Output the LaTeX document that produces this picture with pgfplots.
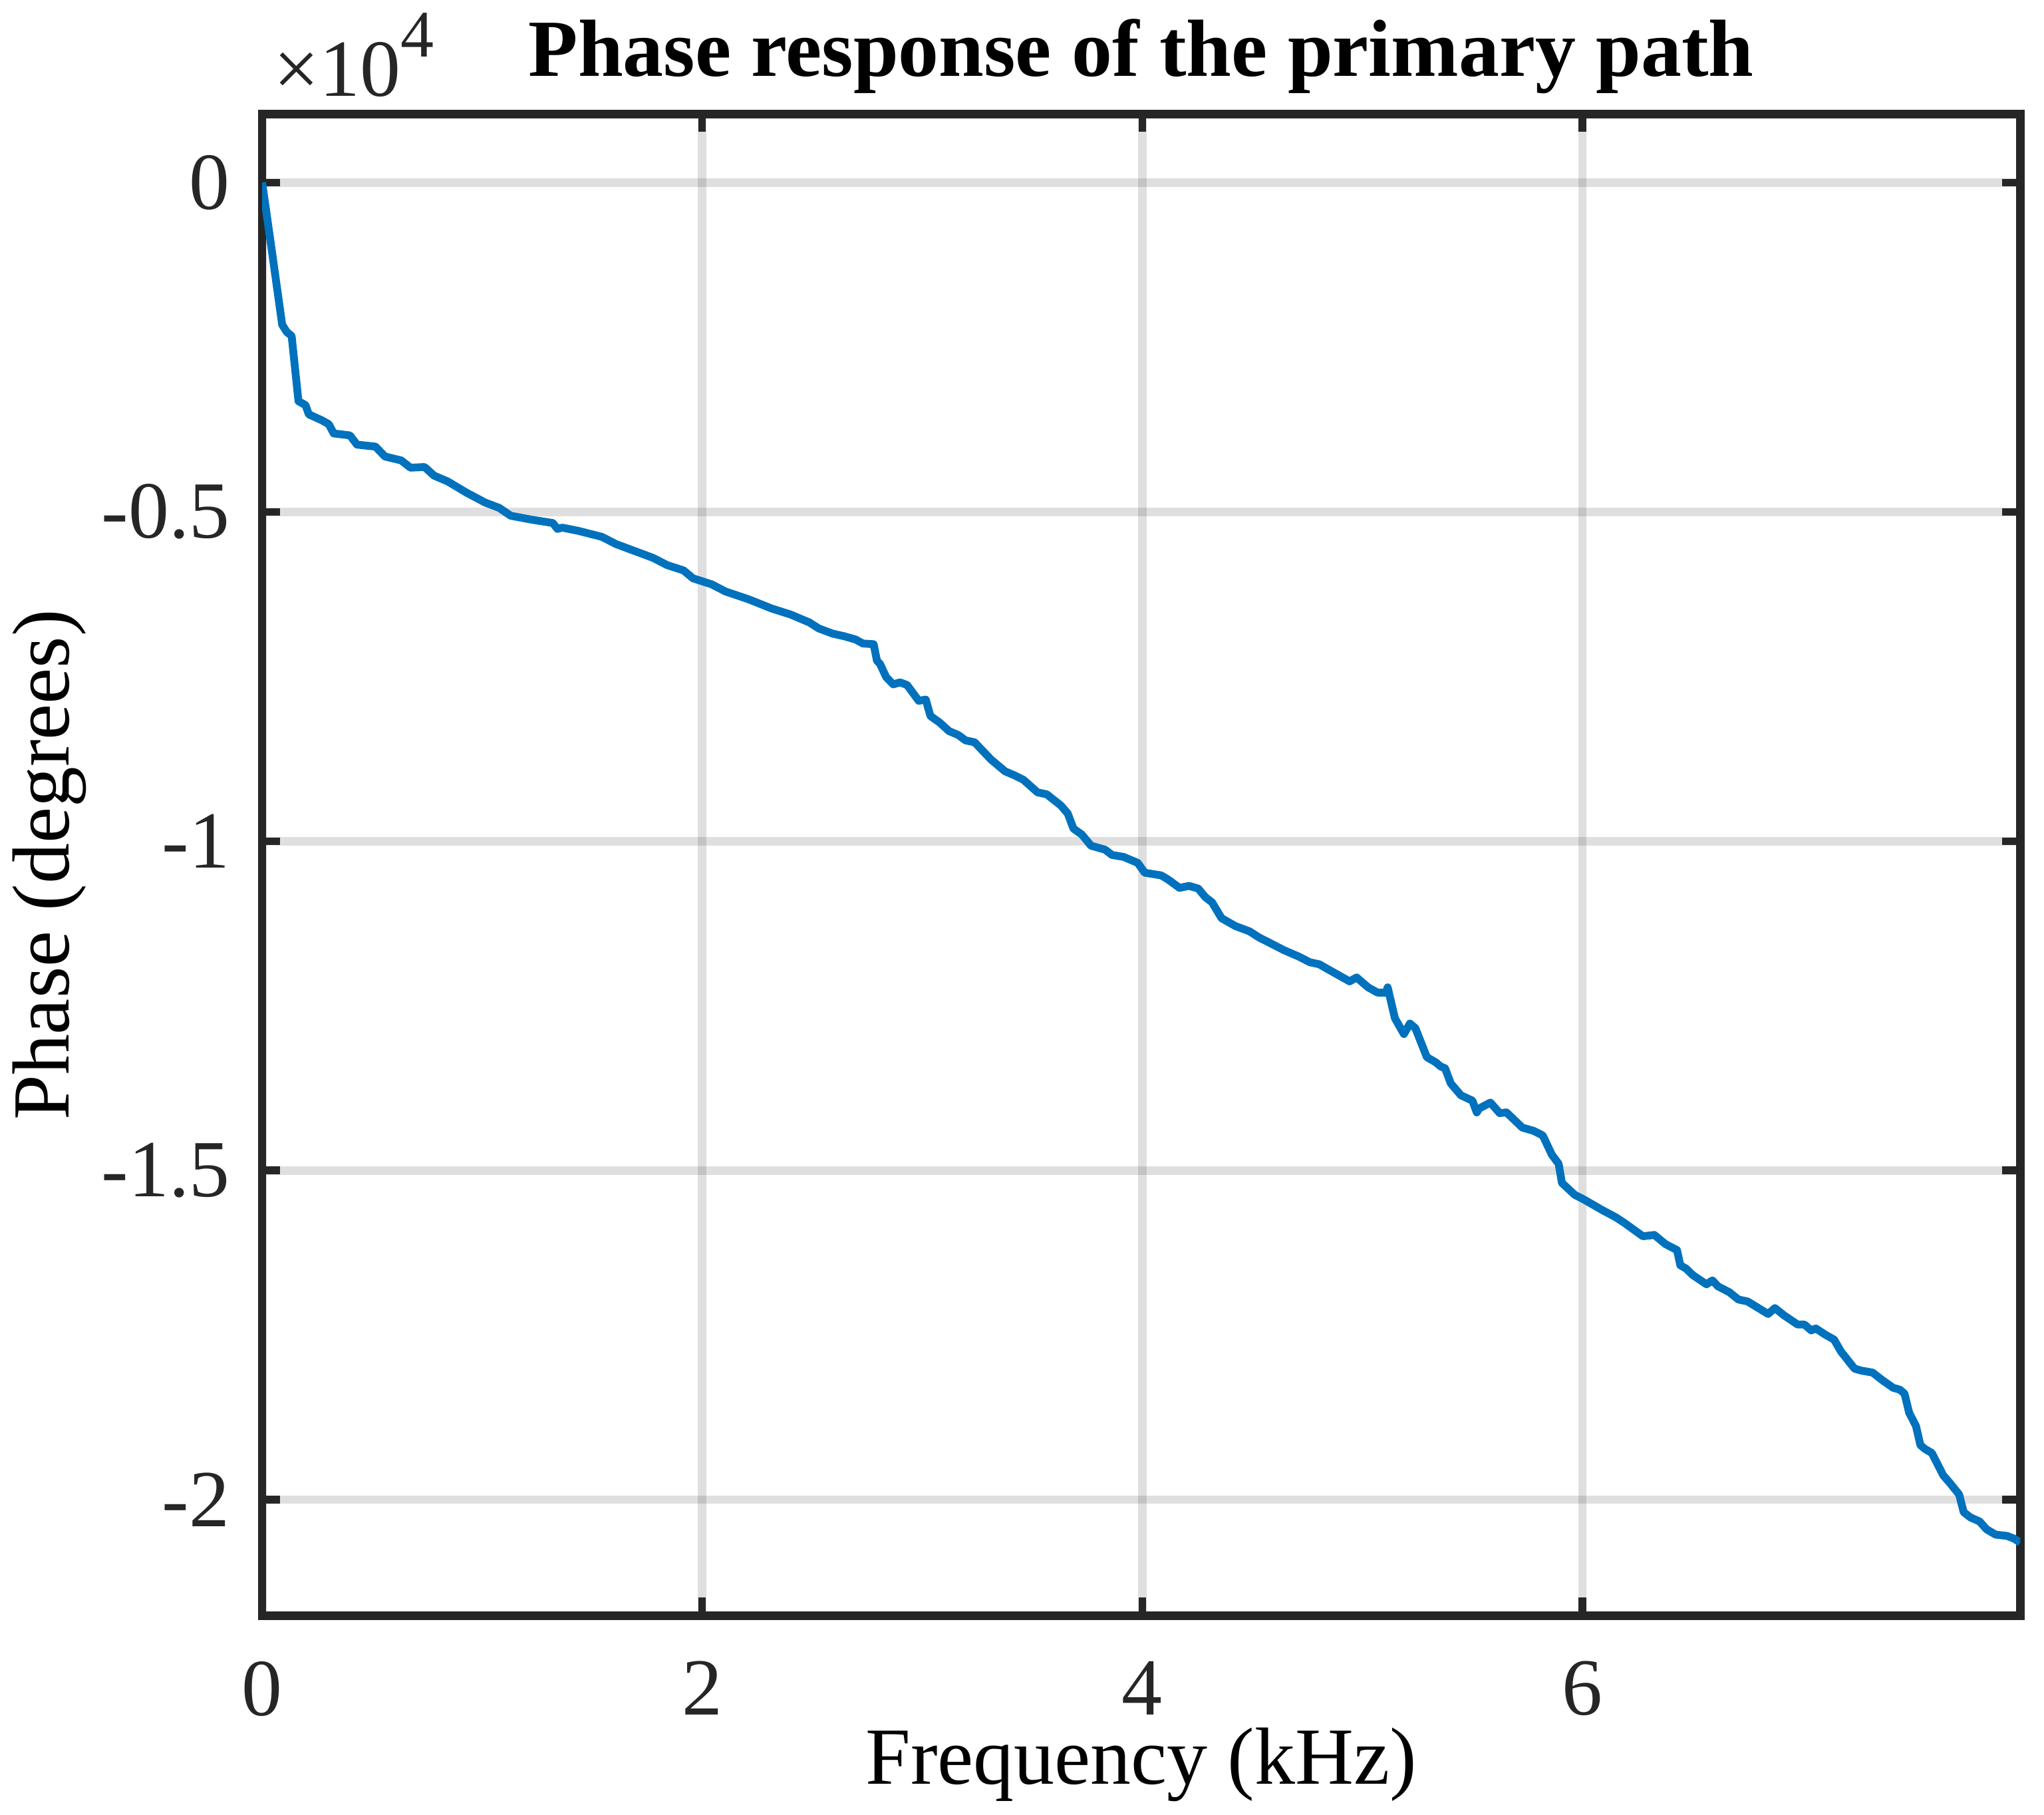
\documentclass[border=0pt]{standalone}
\usepackage{fontspec}
\setmainfont{Liberation Serif}
\usepackage{pgfplots}
\pgfplotsset{compat=1.18}
\definecolor{axc}{RGB}{38,38,38}
\definecolor{mblue}{RGB}{0,114,189}
\begin{document}
\begin{tikzpicture}
\begin{axis}[
  name=ax,
  at={(0,0)}, anchor=south west,
  scale only axis, width=303.8pt, height=259.4pt,
  xmin=0, xmax=7.99, ymin=-21760, ymax=1040,
  xtick={0,2,4,6}, xticklabels={0,2,4,6},
  ytick={-20000,-15000,-10000,-5000,0}, yticklabels={-2,-1.5,-1,-0.5,0},
  scaled y ticks=false, scaled x ticks=false,
  tick align=inside, major tick length=3.1pt,
  tick style={axc, line width=1.3pt},
  axis line style={axc, line width=1.46pt},
  grid=major,
  major grid style={line width=1.47pt, color=black!85, opacity=0.15},
  /pgf/number format/assume math mode=true,
  font=\fontsize{14}{17}\selectfont,
  ticklabel style={font=\fontsize{14}{17}\selectfont, text=axc},
  xticklabel style={anchor=north, inner sep=0pt, yshift=-7.7pt},
  yticklabel style={anchor=east, inner sep=0pt, xshift=-5.4pt},
  xlabel={Frequency (kHz)},
  ylabel={Phase (degrees)},
  xlabel style={at={(axis description cs:0.5,0)}, anchor=base, yshift=-29.1pt, inner sep=0pt, font=\fontsize{14}{17}\selectfont},
  ylabel style={at={(axis description cs:-0.10994,0.5)}, anchor=base, inner sep=0pt, font=\fontsize{14}{17}\selectfont},
]
\addplot[mblue, line width=1.35pt, line join=round] coordinates {
(0,0) (0.045,-1060) (0.091,-2160) (0.112,-2270) (0.134,-2330) (0.165,-3320)
(0.197,-3380) (0.212,-3520) (0.271,-3610) (0.303,-3670) (0.325,-3810)
(0.399,-3840) (0.431,-3980) (0.515,-4010) (0.558,-4160) (0.632,-4220)
(0.674,-4330) (0.738,-4320) (0.781,-4450) (0.844,-4540) (0.929,-4710)
(1.014,-4860) (1.077,-4940) (1.130,-5060) (1.226,-5120) (1.321,-5170)
(1.342,-5260) (1.364,-5240) (1.438,-5290) (1.544,-5380) (1.608,-5490)
(1.777,-5700) (1.841,-5810) (1.915,-5890) (1.958,-6010) (2.042,-6100)
(2.106,-6210) (2.212,-6330) (2.317,-6470) (2.402,-6560) (2.487,-6680)
(2.529,-6770) (2.593,-6850) (2.646,-6890) (2.698,-6940) (2.730,-7000)
(2.779,-7010) (2.794,-7260) (2.808,-7310) (2.836,-7510) (2.868,-7620)
(2.899,-7590) (2.931,-7630) (2.984,-7870) (3.016,-7850) (3.037,-8100)
(3.079,-8200) (3.122,-8330) (3.164,-8390) (3.196,-8470) (3.238,-8500)
(3.312,-8760) (3.376,-8940) (3.418,-9000) (3.460,-9070) (3.524,-9260)
(3.566,-9290) (3.630,-9460) (3.661,-9580) (3.687,-9810) (3.725,-9900)
(3.767,-10070) (3.831,-10130) (3.862,-10210) (3.915,-10240) (3.979,-10330)
(4.011,-10480) (4.085,-10520) (4.116,-10580) (4.169,-10710) (4.212,-10680)
(4.254,-10720) (4.286,-10850) (4.317,-10930) (4.360,-11170) (4.423,-11290)
(4.487,-11370) (4.529,-11460) (4.582,-11550) (4.646,-11660) (4.709,-11750)
(4.762,-11840) (4.804,-11870) (4.878,-12010) (4.942,-12130) (4.974,-12070)
(5.026,-12220) (5.069,-12300) (5.107,-12300) (5.115,-12220) (5.148,-12690)
(5.189,-12930) (5.216,-12770) (5.241,-12840) (5.293,-13280) (5.334,-13360)
(5.355,-13420) (5.376,-13450) (5.402,-13680) (5.448,-13860) (5.500,-13940)
(5.520,-14120) (5.531,-14060) (5.582,-13970) (5.624,-14130) (5.655,-14120)
(5.727,-14350) (5.779,-14400) (5.820,-14470) (5.861,-14760) (5.892,-14900)
(5.907,-15190) (5.965,-15370) (6.006,-15440) (6.089,-15600) (6.151,-15710)
(6.192,-15800) (6.275,-16000) (6.327,-15980) (6.378,-16120) (6.430,-16210)
(6.445,-16440) (6.471,-16490) (6.502,-16590) (6.564,-16730) (6.591,-16670)
(6.616,-16760) (6.668,-16850) (6.709,-16960) (6.751,-16990) (6.844,-17180)
(6.875,-17090) (6.916,-17200) (6.978,-17340) (7.009,-17340) (7.040,-17430)
(7.061,-17400) (7.102,-17490) (7.144,-17570) (7.175,-17750) (7.237,-18010)
(7.268,-18040) (7.319,-18070) (7.361,-18180) (7.412,-18300) (7.443,-18330)
(7.464,-18390) (7.485,-18680) (7.516,-18880) (7.536,-19170) (7.557,-19230)
(7.588,-19290) (7.640,-19630) (7.671,-19750) (7.712,-19920) (7.733,-20190)
(7.764,-20270) (7.805,-20330) (7.837,-20450) (7.878,-20530) (7.930,-20550)
(7.961,-20590) (7.990,-20650)
};
\end{axis}
\node[anchor=base, inner sep=0pt, font=\bfseries\fontsize{14}{17}\selectfont]
  at ([yshift=6.5pt]ax.north) {Phase response of the primary path};
\node[anchor=base west, inner sep=0pt, text=axc, font=\fontsize{14}{17}\selectfont]
  at ([xshift=1.8pt, yshift=3.1pt]ax.north west) {×10\raisebox{6.8pt}{\fontsize{11.5}{12}\selectfont 4}};
\pgfresetboundingbox
\path (-45.3pt,-34.4pt) rectangle (307.9pt,279.1pt);
\end{tikzpicture}
\end{document}
